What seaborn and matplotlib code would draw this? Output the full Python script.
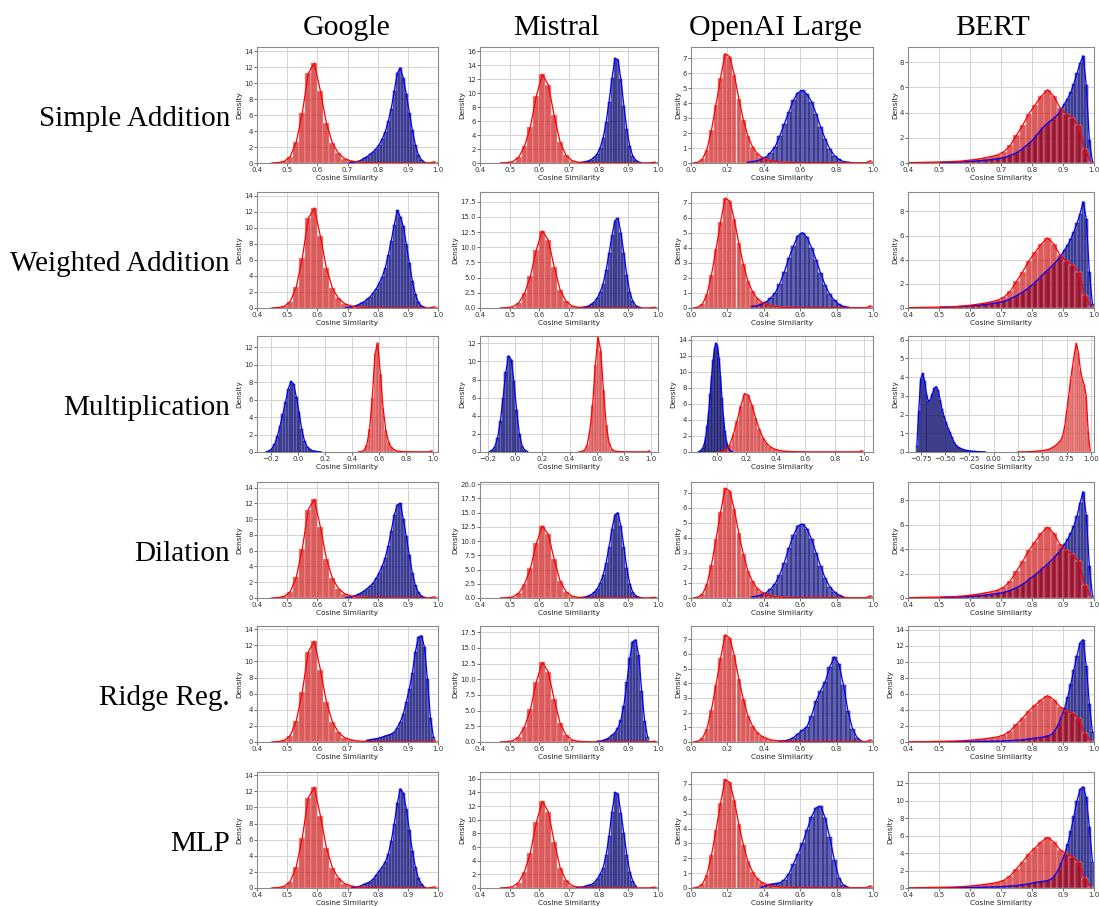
import numpy as np
import matplotlib
matplotlib.use("Agg")
import matplotlib.pyplot as plt
from matplotlib.ticker import MultipleLocator
import seaborn as sns

models = ["Google", "Mistral", "OpenAI Large", "BERT"]
methods = ["Simple Addition", "Weighted Addition", "Multiplication",
           "Dilation", "Ridge Reg.", "MLP"]

# every series: (first bin edge, bin width, density read per bin)
# red = baseline distribution of each model (same in every row)
google_red = (0.44, 0.02, [
    0.02, 0.05, 0.2, 0.8, 2.6, 6.2, 11.2, 12.5, 9.0, 5.0,
    2.5, 1.2, 0.55, 0.28, 0.14, 0.08, 0.05, 0.04, 0.03, 0.03,
    0.02, 0.02, 0.02, 0.02, 0.02, 0.02, 0.02, 0.15])
mistral_red = (0.46, 0.02, [
    0.02, 0.05, 0.2, 0.8, 2.4, 5.2, 9.6, 12.7, 11.2, 6.8,
    3.0, 1.1, 0.35, 0.12, 0.06, 0.04, 0.03, 0.02, 0.02, 0.02,
    0.02, 0.02, 0.02, 0.02, 0.02, 0.02, 0.12])
openai_red = (0.0, 0.025, [
    0.0, 0.05, 0.25, 0.9, 2.2, 3.9, 5.7, 7.3, 7.1, 5.9,
    4.3, 2.9, 1.8, 1.1, 0.65, 0.4, 0.25, 0.15, 0.1, 0.07,
    0.05, 0.04, 0.03, 0.03, 0.02, 0.02, 0.02, 0.02, 0.02, 0.02,
    0.02, 0.02, 0.02, 0.02, 0.02, 0.02, 0.02, 0.02, 0.02, 0.15])
bert_red = (0.24, 0.02, [
    0.005, 0.005, 0.01, 0.01, 0.01, 0.015, 0.02, 0.025,
    0.03, 0.04, 0.05, 0.06, 0.07, 0.08, 0.1, 0.12, 0.15, 0.2,
    0.26, 0.33, 0.42, 0.52, 0.65, 0.9, 1.4, 2.2, 3.0, 3.9,
    4.6, 5.3, 5.8, 5.3, 4.4, 3.9, 3.6, 3.0, 1.1, 0.1])

# blue = composed embeddings, one per method and model
google_blue_add = (0.70, 0.01, [
    0.05, 0.08, 0.12, 0.2, 0.35, 0.6, 0.8, 1.1, 1.4, 1.8,
    2.3, 3.0, 3.9, 5.2, 6.8, 9.0, 11.2, 11.9, 10.6, 8.6,
    6.3, 4.1, 2.3, 1.0, 0.4, 0.1])
google_blue_wadd = (0.69, 0.01, [
    0.05, 0.1, 0.15, 0.25, 0.4, 0.6, 0.8, 1.1, 1.4, 1.9,
    2.4, 3.1, 3.9, 5.0, 6.6, 8.4, 10.4, 12.2, 11.4, 10.2,
    8.0, 5.6, 3.4, 1.7, 0.7, 0.25, 0.08])
google_blue_mult = (-0.24, 0.02, [
    0.05, 0.15, 0.4, 0.9, 1.8, 3.0, 4.3, 5.7, 7.2, 8.1,
    7.8, 6.3, 4.6, 2.6, 1.3, 0.6, 0.3, 0.15, 0.08, 0.04, 0.02])
google_blue_dil = (0.69, 0.01, [
    0.05, 0.1, 0.18, 0.3, 0.45, 0.65, 0.9, 1.2, 1.5, 1.9,
    2.5, 3.2, 4.0, 5.1, 6.6, 8.5, 10.5, 11.8, 12.0, 10.0,
    7.8, 5.4, 3.2, 1.6, 0.7, 0.25, 0.08])
google_blue_ridge = (0.76, 0.01, [
    0.2, 0.3, 0.35, 0.4, 0.5, 0.6, 0.75, 0.85, 1.0, 1.2,
    1.8, 2.5, 3.5, 5.0, 6.6, 8.6, 11.2, 13.0, 13.2, 11.8,
    7.8, 3.0, 0.6])
google_blue_mlp = (0.71, 0.01, [
    0.05, 0.1, 0.15, 0.3, 0.45, 0.6, 0.8, 1.1, 1.6, 2.1,
    2.6, 3.2, 4.2, 5.8, 8.0, 10.5, 12.3, 11.8, 9.8, 7.2,
    4.6, 2.6, 1.2, 0.5, 0.1])

mistral_blue_add = (0.73, 0.01, [
    0.05, 0.1, 0.2, 0.3, 0.5, 0.8, 1.3, 2.2, 3.6, 5.8,
    8.8, 12.2, 15.0, 14.8, 12.0, 8.2, 4.8, 2.4, 1.0, 0.4,
    0.15, 0.05])
mistral_blue_wadd = (0.74, 0.01, [
    0.1, 0.2, 0.3, 0.6, 1.0, 1.6, 2.6, 4.0, 6.2, 9.0,
    12.0, 14.4, 14.8, 12.4, 9.0, 5.4, 2.6, 1.1, 0.4, 0.15, 0.05])
mistral_blue_mult = (-0.20, 0.02, [
    0.05, 0.2, 0.6, 1.6, 3.4, 6.0, 8.8, 10.6, 10.2, 7.8,
    4.6, 2.0, 0.7, 0.2, 0.05])
mistral_blue_dil = (0.74, 0.01, [
    0.1, 0.2, 0.35, 0.6, 1.0, 1.6, 2.6, 4.0, 6.2, 9.0,
    12.2, 14.6, 15.0, 12.6, 9.0, 5.2, 2.5, 1.0, 0.4, 0.15, 0.05])
mistral_blue_ridge = (0.79, 0.01, [
    0.1, 0.15, 0.25, 0.4, 0.7, 1.1, 1.5, 2.2, 3.5, 5.8,
    9.5, 13.4, 16.0, 16.3, 13.8, 8.2, 3.4, 0.8])
mistral_blue_mlp = (0.72, 0.01, [
    0.05, 0.1, 0.15, 0.25, 0.4, 0.5, 0.8, 1.3, 2.0, 3.0,
    4.8, 7.6, 11.2, 14.0, 13.8, 11.0, 8.0, 4.8, 2.4, 1.0, 0.3])

openai_blue_add = (0.30, 0.025, [
    0.05, 0.1, 0.15, 0.25, 0.4, 0.7, 1.1, 1.8, 2.6, 3.4,
    4.2, 4.7, 4.85, 4.6, 4.1, 3.3, 2.4, 1.6, 0.95, 0.5,
    0.25, 0.1, 0.05, 0.02])
openai_blue_wadd = (0.325, 0.025, [
    0.1, 0.15, 0.25, 0.4, 0.65, 1.0, 1.6, 2.4, 3.3, 4.1,
    4.8, 5.0, 4.7, 4.0, 3.2, 2.3, 1.5, 0.9, 0.5, 0.25, 0.1, 0.05])
openai_blue_mult = (-0.13, 0.01, [
    0.05, 0.1, 0.25, 0.5, 1.0, 1.9, 3.2, 5.0, 7.2, 9.5,
    11.5, 13.0, 13.6, 13.3, 11.8, 9.5, 6.8, 4.4, 2.6, 1.4,
    0.7, 0.3, 0.12, 0.05])
openai_blue_dil = (0.325, 0.025, [
    0.08, 0.12, 0.2, 0.35, 0.6, 0.95, 1.55, 2.35, 3.3, 4.15,
    4.8, 4.9, 4.6, 3.9, 3.0, 2.1, 1.3, 0.75, 0.4, 0.2, 0.08])
openai_blue_ridge = (0.475, 0.025, [
    0.05, 0.08, 0.15, 0.3, 0.55, 0.8, 1.05, 1.8, 2.8, 3.5,
    4.1, 5.1, 5.8, 5.3, 3.9, 2.1, 0.9, 0.3, 0.05])
openai_blue_mlp = (0.375, 0.025, [
    0.05, 0.15, 0.25, 0.3, 0.35, 0.55, 0.95, 1.6, 2.3, 3.0,
    3.9, 4.8, 5.4, 5.5, 4.7, 3.4, 1.9, 0.7, 0.2, 0.05])

bert_blue_add = (0.50, 0.01, [
    0.05, 0.05, 0.06, 0.06, 0.07, 0.08, 0.09, 0.1, 0.11, 0.12,
    0.13, 0.15, 0.17, 0.19, 0.21, 0.23, 0.26, 0.29, 0.32, 0.36,
    0.4, 0.47, 0.55, 0.64, 0.75, 0.9, 1.05, 1.25, 1.45, 1.65,
    1.9, 2.2, 2.5, 2.8, 3.05, 3.25, 3.45, 3.65, 3.9, 4.3,
    4.7, 5.1, 5.6, 6.3, 7.1, 7.9, 8.5, 6.2, 1.8, 0.1])
bert_blue_wadd = (0.50, 0.01, [
    0.06, 0.07, 0.08, 0.09, 0.1, 0.11, 0.12, 0.13, 0.15, 0.17,
    0.19, 0.21, 0.23, 0.25, 0.28, 0.31, 0.34, 0.38, 0.42, 0.46,
    0.52, 0.6, 0.7, 0.82, 0.95, 1.1, 1.25, 1.4, 1.6, 1.8,
    2.0, 2.25, 2.5, 2.75, 3.0, 3.25, 3.5, 3.75, 4.05, 4.4,
    4.8, 5.2, 5.7, 6.3, 7.0, 7.8, 8.8, 7.4, 3.0, 0.3])
bert_blue_mult = (-0.80, 0.02, [
    0.3, 2.2, 3.9, 4.2, 3.8, 3.1, 2.7, 2.8, 3.1, 3.4,
    3.5, 3.3, 2.8, 2.3, 1.9, 1.6, 1.3, 1.05, 0.8, 0.55,
    0.38, 0.28, 0.22, 0.17, 0.13, 0.1, 0.08, 0.06, 0.05, 0.04,
    0.03, 0.02, 0.02, 0.01, 0.01, 0.01])
bert_blue_dil = (0.50, 0.01, [
    0.04, 0.05, 0.05, 0.06, 0.07, 0.08, 0.09, 0.1, 0.11, 0.12,
    0.14, 0.16, 0.18, 0.2, 0.22, 0.25, 0.28, 0.31, 0.35, 0.39,
    0.44, 0.5, 0.58, 0.67, 0.78, 0.9, 1.05, 1.2, 1.4, 1.6,
    1.8, 2.0, 2.2, 2.45, 2.65, 2.9, 3.15, 3.4, 3.7, 4.0,
    4.4, 4.8, 5.3, 5.9, 6.7, 7.8, 8.7, 6.8, 2.6, 0.2])
bert_blue_ridge = (0.50, 0.01, [
    0.02, 0.02, 0.02, 0.03, 0.03, 0.03, 0.04, 0.04, 0.05, 0.05,
    0.06, 0.06, 0.07, 0.07, 0.08, 0.08, 0.09, 0.1, 0.1, 0.11,
    0.12, 0.14, 0.16, 0.18, 0.2, 0.22, 0.25, 0.3, 0.35, 0.4,
    0.45, 0.5, 0.55, 0.6, 0.7, 0.8, 1.0, 1.5, 2.2, 3.1,
    4.2, 5.6, 7.2, 9.0, 10.8, 12.4, 12.8, 9.5, 4.8, 1.2])
bert_blue_mlp = (0.50, 0.01, [
    0.02, 0.02, 0.02, 0.03, 0.03, 0.03, 0.04, 0.04, 0.05, 0.05,
    0.06, 0.06, 0.07, 0.08, 0.09, 0.1, 0.11, 0.12, 0.13, 0.14,
    0.16, 0.18, 0.2, 0.23, 0.26, 0.3, 0.35, 0.4, 0.45, 0.5,
    0.6, 0.65, 0.7, 0.75, 0.8, 0.9, 1.1, 1.5, 2.1, 2.9,
    3.9, 5.0, 6.5, 8.2, 10.0, 11.3, 11.6, 10.4, 7.0, 3.0])

red_series = [google_red, mistral_red, openai_red, bert_red]
blue_series = [
    [google_blue_add, mistral_blue_add, openai_blue_add, bert_blue_add],
    [google_blue_wadd, mistral_blue_wadd, openai_blue_wadd, bert_blue_wadd],
    [google_blue_mult, mistral_blue_mult, openai_blue_mult, bert_blue_mult],
    [google_blue_dil, mistral_blue_dil, openai_blue_dil, bert_blue_dil],
    [google_blue_ridge, mistral_blue_ridge, openai_blue_ridge, bert_blue_ridge],
    [google_blue_mlp, mistral_blue_mlp, openai_blue_mlp, bert_blue_mlp],
]

# axis limits and y tick spacing seen in the panels
y_top = [
    [14.5, 16.6, 7.75, 9.2],
    [14.5, 19.1, 7.7, 9.6],
    [13.3, 12.8, 14.5, 6.2],
    [14.7, 20.4, 7.7, 9.5],
    [14.4, 18.5, 7.9, 14.5],
    [14.4, 17.0, 7.8, 13.3],
]
y_step = [
    [2, 2, 1, 2],
    [2, 2.5, 1, 2],
    [2, 2, 2, 1],
    [2, 2.5, 1, 2],
    [2, 2.5, 1, 2],
    [2, 2, 1, 2],
]
x_lim = [(0.4, 1.0), (0.4, 1.0), (0.0, 1.0), (0.4, 1.0)]
x_lim_mult = [(-0.3, 1.035), (-0.26, 1.052), (-0.175, 1.06), (-0.88, 1.03)]

plt.rcParams['font.family'] = 'DejaVu Sans'
plt.rcParams['axes.edgecolor'] = '#8a8a8a'
plt.rcParams['axes.linewidth'] = 0.8
plt.rcParams['grid.color'] = '#d4d4d4'
plt.rcParams['grid.linewidth'] = 0.7

RED_FACE = '#c80000'
BLUE_FACE = '#0a0a8c'


def draw_series(ax, series, face, edge, line):
    start, width, dens = series
    dens = np.asarray(dens, dtype=float)
    edges = start + width * np.arange(len(dens) + 1)
    centers = edges[:-1] + width / 2
    sns.histplot(x=centers, weights=dens, bins=list(edges), stat="count",
                 color=face, alpha=0.64, edgecolor=edge, linewidth=0.35, ax=ax)
    return centers, dens, line


fig = plt.figure(figsize=(10.99, 9.06), dpi=100)
W, H = 1099, 906
col_left = [257, 480, 691, 908]
col_width = [181, 178, 182, 186]
row_top = [47, 192, 336, 482, 626, 772]
row_h = 116
title_x = [347, 556, 775, 993]

for r in range(6):
    for c in range(4):
        ax = fig.add_axes([col_left[c] / W, 1 - (row_top[r] + row_h) / H,
                           col_width[c] / W, row_h / H])
        ax.set_axisbelow(True)
        ax.grid(True)
        lines = [draw_series(ax, blue_series[r][c], BLUE_FACE, '#101050', 'blue'),
                 draw_series(ax, red_series[c], RED_FACE, '#f3b0b0', 'red')]
        for xs, ys, col in lines:
            sns.lineplot(x=xs, y=ys, color=col, linewidth=0.9, ax=ax)
        ax.set_xlim(x_lim_mult[c] if r == 2 else x_lim[c])
        ax.set_ylim(0, y_top[r][c])
        ax.yaxis.set_major_locator(MultipleLocator(y_step[r][c]))
        if c == 2 and r != 2:
            ax.set_xticks(np.arange(0, 1.01, 0.2))
        elif r != 2:
            ax.set_xticks(np.arange(0.4, 1.01, 0.1))
        ax.tick_params(labelsize=5, length=2, width=0.5, pad=1, colors='#333333')
        ax.set_xlabel("Cosine Similarity", fontsize=5.3, labelpad=1, color='#222222')
        ax.set_ylabel("Density", fontsize=5.3, labelpad=1, color='#222222')

for c in range(4):
    fig.text(title_x[c] / W, 1 - 28 / H, models[c], ha='center', va='center',
             fontsize=21.5, family='Liberation Serif')
for r in range(6):
    fig.text(230 / W, 1 - (row_top[r] + row_h / 2 + 14) / H, methods[r],
             ha='right', va='center', fontsize=21, family='Liberation Serif')

fig.savefig("out.png", dpi=100)
